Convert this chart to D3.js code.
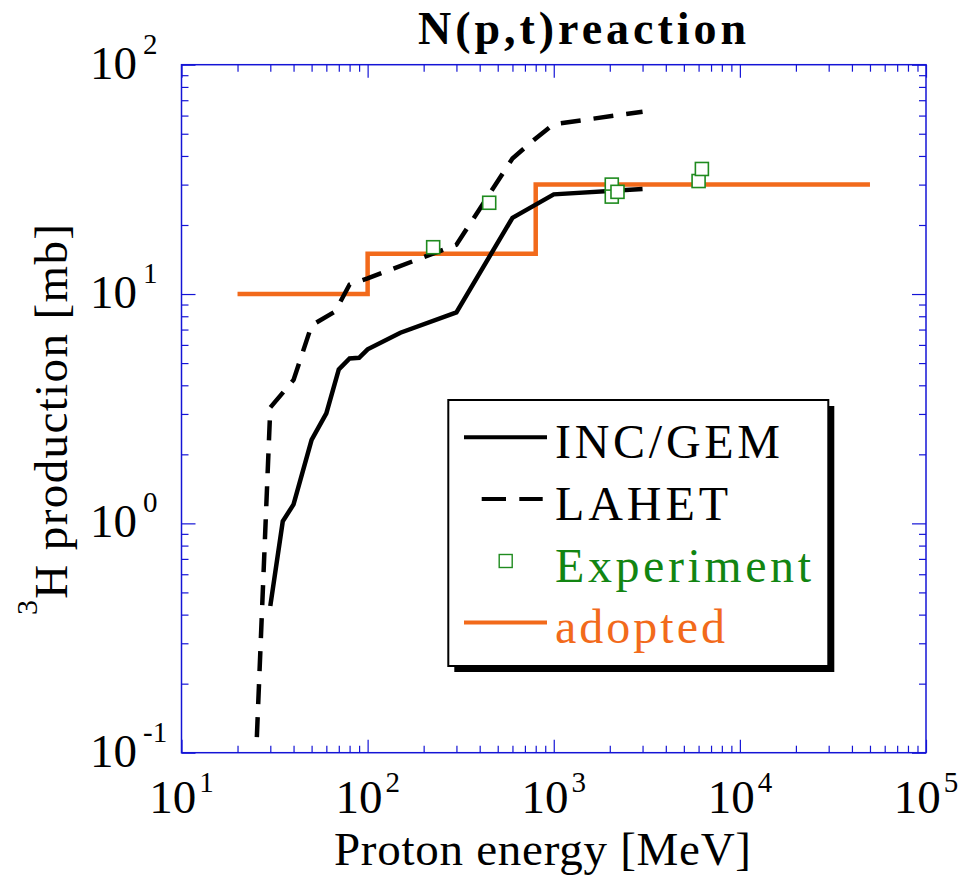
<!DOCTYPE html>
<html>
<head>
<meta charset="utf-8">
<script src="https://cdn.jsdelivr.net/npm/d3@7/dist/d3.min.js"></script>
<style>
  body { margin: 0; background: #fff; }
  svg { display: block; }
</style>
</head>
<body>
<div id="chart"></div>
<script>
// INC/GEM calculation (solid)
const incEnergy = [30, 35, 40, 50, 60, 70, 80, 90, 100, 150, 300, 600, 1000, 3000];
const incValue  = [0.436, 1.02, 1.21, 2.31, 3.02, 4.69, 5.24, 5.27, 5.74, 6.78, 8.32, 21.5, 27.2, 28.7];

// LAHET calculation (dashed)
const lahetEnergy = [25.4, 30, 40, 50, 67, 80, 100, 300, 600, 800, 1000, 3000];
const lahetValue  = [0.117, 3.2, 4.22, 7.3, 8.4, 11.0, 11.7, 16.4, 39, 47.7, 55, 62.4];

// experimental points
const expEnergy = [225, 450, 2050, 2050, 2200, 6000, 6250];
const expValue  = [16.0, 25.0, 30.0, 26.6, 27.9, 31.1, 35.1];

// adopted step function (value holds from each energy to the next)
const adoptEnergy = [20, 100, 800, 50000];
const adoptValue  = [10, 15, 30, 30];

const xTickExps = [1, 2, 3, 4, 5];
const yTickExps = [-1, 0, 1, 2];

const legendItems = [
    { label: "INC/GEM", kind: "solid", color: "#000", width: 225 },
    { label: "LAHET", kind: "dash", color: "#000", width: 173 },
    { label: "Experiment", kind: "square", color: "#128512", width: 256 },
    { label: "adopted", kind: "orange", color: "#f26a1b", width: 170 }
];

(function draw() {
    const W = 964, H = 877;
    const frame = { left: 181.5, right: 926, top: 64.7, bottom: 752.7 };
    const axisBlue = "#1414d6";
    const orange = "#f26a1b";
    const green = "#1f8b1f";
    const serif = "Liberation Serif";

    const svg = d3.select("#chart").append("svg")
        .attr("width", W)
        .attr("height", H)
        .attr("font-family", serif);

    const x = d3.scaleLog().domain([10, 1e5]).range([frame.left, frame.right]);
    const y = d3.scaleLog().domain([0.1, 100]).range([frame.bottom, frame.top]);

    // ticks: majors are powers of ten, minors the rest
    const isPow = v => Math.abs(Math.log10(v) - Math.round(Math.log10(v))) < 1e-9;
    const xMajor = x.ticks().filter(isPow);
    const xMinor = x.ticks().filter(v => !isPow(v));
    const yMajor = y.ticks().filter(isPow);
    const yMinor = y.ticks().filter(v => !isPow(v));

    function addAxis(axisFn, scale, transform, values, len) {
        const g = svg.append("g")
            .attr("transform", transform)
            .call(axisFn(scale).tickValues(values).tickSizeInner(-len).tickSizeOuter(0).tickFormat(""));
        g.select(".domain").remove();
        g.selectAll(".tick line").attr("stroke", axisBlue).attr("stroke-width", 1.2);
    }

    addAxis(d3.axisBottom, x, `translate(0,${frame.bottom})`, xMajor, 13);
    addAxis(d3.axisBottom, x, `translate(0,${frame.bottom})`, xMinor, 7);
    addAxis(d3.axisTop, x, `translate(0,${frame.top})`, xMajor, 13);
    addAxis(d3.axisTop, x, `translate(0,${frame.top})`, xMinor, 7);
    addAxis(d3.axisLeft, y, `translate(${frame.left},0)`, yMajor, 14);
    addAxis(d3.axisLeft, y, `translate(${frame.left},0)`, yMinor, 7);
    addAxis(d3.axisRight, y, `translate(${frame.right},0)`, yMajor, 14);
    addAxis(d3.axisRight, y, `translate(${frame.right},0)`, yMinor, 7);

    svg.append("rect")
        .attr("x", frame.left)
        .attr("y", frame.top)
        .attr("width", frame.right - frame.left)
        .attr("height", frame.bottom - frame.top)
        .attr("fill", "none")
        .attr("stroke", axisBlue)
        .attr("stroke-width", 1.5);

    // tick labels
    const xl = svg.append("g").selectAll("text")
        .data(xTickExps)
        .enter()
        .append("text")
        .attr("x", d => x(Math.pow(10, d)))
        .attr("y", 813)
        .attr("text-anchor", "middle")
        .attr("font-size", 47);
    xl.append("tspan").text("10");
    xl.append("tspan").attr("font-size", 29).attr("dx", 3).attr("dy", -21).text(d => String(d));

    const yl = svg.append("g").selectAll("text")
        .data(yTickExps)
        .enter()
        .append("text")
        .attr("x", 90)
        .attr("y", d => y(Math.pow(10, d)) + 14)
        .attr("font-size", 47);
    yl.append("tspan").text("10");
    yl.append("tspan").attr("font-size", 29).attr("dx", 6).attr("dy", -25).text(d => String(d));

    // axis titles
    svg.append("text")
        .attr("x", 334)
        .attr("y", 865)
        .attr("font-size", 47)
        .attr("textLength", 417)
        .attr("lengthAdjust", "spacing")
        .text("Proton energy [MeV]");

    const ylab = svg.append("text")
        .attr("transform", "translate(67,615) rotate(-90)")
        .attr("font-size", 47)
        .attr("textLength", 391)
        .attr("lengthAdjust", "spacing");
    ylab.append("tspan").attr("font-size", 30).attr("dy", -30).text("3");
    ylab.append("tspan").attr("dy", 30).text("H production [mb]");

    svg.append("text")
        .attr("x", 418)
        .attr("y", 44)
        .attr("font-size", 46)
        .attr("font-weight", "bold")
        .attr("textLength", 328)
        .attr("lengthAdjust", "spacing")
        .text("N(p,t)reaction");

    // curves
    const line = d3.line().x(d => x(d[0])).y(d => y(d[1]));
    const stepLine = d3.line().x(d => x(d[0])).y(d => y(d[1])).curve(d3.curveStepAfter);

    const plot = svg.append("g");

    plot.append("path")
        .datum(adoptEnergy.map((e, i) => [e, adoptValue[i]]))
        .attr("d", stepLine)
        .attr("fill", "none")
        .attr("stroke", orange)
        .attr("stroke-width", 4.5);

    plot.append("path")
        .datum(incEnergy.map((e, i) => [e, incValue[i]]))
        .attr("d", line)
        .attr("fill", "none")
        .attr("stroke", "#000")
        .attr("stroke-width", 4.5);

    plot.append("path")
        .datum(lahetEnergy.map((e, i) => [e, lahetValue[i]]))
        .attr("d", line)
        .attr("fill", "none")
        .attr("stroke", "#000")
        .attr("stroke-width", 4.5)
        .attr("stroke-dasharray", "20,13");

    const sq = 13;
    plot.selectAll("rect.exp")
        .data(expEnergy.map((e, i) => [e, expValue[i]]))
        .enter()
        .append("rect")
        .attr("class", "exp")
        .attr("x", d => x(d[0]) - sq / 2)
        .attr("y", d => y(d[1]) - sq / 2)
        .attr("width", sq)
        .attr("height", sq)
        .attr("fill", "#fff")
        .attr("stroke", green)
        .attr("stroke-width", 1.6);

    // legend
    const lg = { x: 448.3, y: 400, w: 380, h: 266 };
    svg.append("rect")
        .attr("x", lg.x + 6).attr("y", lg.y + 6)
        .attr("width", lg.w).attr("height", lg.h)
        .attr("fill", "#000");
    svg.append("rect")
        .attr("x", lg.x).attr("y", lg.y)
        .attr("width", lg.w).attr("height", lg.h)
        .attr("fill", "#fff")
        .attr("stroke", "#000")
        .attr("stroke-width", 2);

    const rowH = 61.7;
    const item = svg.append("g").selectAll("g")
        .data(legendItems)
        .enter()
        .append("g")
        .attr("transform", (d, i) => `translate(0,${458.3 + i * rowH})`);

    item.append("text")
        .attr("x", 555)
        .attr("y", 0)
        .attr("font-size", 48)
        .attr("fill", d => d.color)
        .attr("textLength", d => d.width)
        .attr("lengthAdjust", "spacing")
        .text(d => d.label);

    item.filter(d => d.kind === "solid" || d.kind === "orange")
        .append("line")
        .attr("x1", 464).attr("x2", 547)
        .attr("y1", -21).attr("y2", -21)
        .attr("stroke", d => d.kind === "orange" ? orange : "#000")
        .attr("stroke-width", 4);

    item.filter(d => d.kind === "dash")
        .append("line")
        .attr("x1", 481.7).attr("x2", 542.7)
        .attr("y1", -21).attr("y2", -21)
        .attr("stroke", "#000")
        .attr("stroke-width", 4)
        .attr("stroke-dasharray", "24.3,13.3");

    item.filter(d => d.kind === "square")
        .append("rect")
        .attr("x", 505.7 - 6.5).attr("y", -27.2)
        .attr("width", 13).attr("height", 13)
        .attr("fill", "#fff")
        .attr("stroke", green)
        .attr("stroke-width", 1.4);
}());
</script>
</body>
</html>
